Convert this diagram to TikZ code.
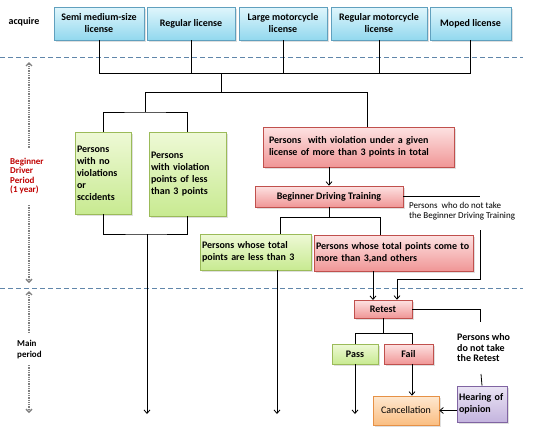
\documentclass[tikz,border=0pt]{standalone}
\usepackage{fontspec}
\setmainfont{Carlito}
\usetikzlibrary{arrows.meta,shadows}

\definecolor{licTop}{RGB}{224,246,252}
\definecolor{licBot}{RGB}{146,216,238}
\definecolor{licLine}{RGB}{96,160,190}
\definecolor{okTop}{RGB}{238,249,214}
\definecolor{okBot}{RGB}{200,234,145}
\definecolor{okLine}{RGB}{155,187,89}
\definecolor{ngTop}{RGB}{253,226,226}
\definecolor{ngBot}{RGB}{240,150,150}
\definecolor{ngLine}{RGB}{192,80,77}
\definecolor{canTop}{RGB}{254,232,208}
\definecolor{canBot}{RGB}{250,190,130}
\definecolor{canLine}{RGB}{230,145,70}
\definecolor{hearTop}{RGB}{234,228,244}
\definecolor{hearBot}{RGB}{196,180,222}
\definecolor{hearLine}{RGB}{128,100,162}
\definecolor{periodRed}{RGB}{192,0,0}
\definecolor{sepLine}{RGB}{96,134,170}

\tikzset{
  box/.style={draw, line width=0.6pt, inner sep=2pt,
    font=\bfseries\fontsize{10}{12}\selectfont,
    drop shadow={opacity=0.25, shadow xshift=1.5pt, shadow yshift=-1.5pt}},
  lic/.style={box, top color=licTop, bottom color=licBot, draw=licLine, align=center},
  ok/.style={box, top color=okTop, bottom color=okBot, draw=okLine},
  ng/.style={box, top color=ngTop, bottom color=ngBot, draw=ngLine},
  cancelbox/.style={box, top color=canTop, bottom color=canBot, draw=canLine,
    font=\fontsize{10}{12}\selectfont},
  hearbox/.style={box, top color=hearTop, bottom color=hearBot, draw=hearLine},
  link/.style={line width=0.8pt},
  arr/.style={link, -{Straight Barb[length=3.5pt,width=6pt]}},
  period/.style={gray, line width=1.3pt, densely dotted},
  sep/.style={sepLine, line width=0.7pt, dash pattern=on 5pt off 3pt}
}

\begin{document}
\begin{tikzpicture}[x=1pt, y=-1pt]
\fill[white] (0,0) rectangle (538,432);
\useasboundingbox (0,0) rectangle (538,432);

% Period separators
\draw[sep] (0,57) -- (523,57);
\draw[sep] (0,288) -- (523,288);

% Licenses
\node[font=\bfseries\fontsize{10}{12}\selectfont] (acq) at (24,22) {acquire};
\foreach \n/\x/\w/\t in {1/99/90/{Semi medium-size\\license},
                         2/191/88/{Regular license},
                         3/283/88/{Large motorcycle\\license},
                         4/379/96/{Regular motorcycle\\license},
                         5/470.5/81/{Moped license}} {
    \node[lic, minimum width=\w*1pt, minimum height=33pt] (lic\n) at (\x,23.5) {\t};
}

% Beginner driver period
\node[ok, text width=52pt, align=left, minimum height=82pt] (safe1) at (103,173)
    {Persons\\with no\\violations\\or\\sccidents};
\node[ok, text width=73pt, align=left, minimum height=84pt] (safe2) at (187.5,174)
    {Persons\\with violation\\points of less\\than 3 points};
\node[ng, inner xsep=6pt, text width=179pt, align=left, minimum height=40pt] (viol) at (358.5,147)
    {Persons~ with violation under a given\\license of more than 3 points in total};
\node[ng, minimum width=148pt, minimum height=21pt] (bdt) at (329,196.5) {Beginner Driving Training};
\node[anchor=west, align=left, inner sep=0pt, font=\fontsize{9}{10}\selectfont] (notrain) at (409,211)
    {Persons~ who do not take\\the Beginner Driving Training};
\node[ok, text width=107pt, align=left, minimum height=36pt] (less3) at (255.5,252)
    {Persons whose total\\points are less than 3};
\node[ng, text width=155pt, align=left, minimum height=36pt] (more3) at (393.5,253)
    {Persons whose total points come to\\more than 3,and others};

% Main period
\node[ng, minimum width=58pt, minimum height=18pt] (retest) at (383,309) {Retest};
\node[ok, minimum width=46pt, minimum height=20pt] (pass) at (355,354) {Pass};
\node[ng, minimum width=49pt, minimum height=20pt] (fail) at (408.5,354) {Fail};
\node[anchor=west, align=left, inner sep=0pt, font=\bfseries\fontsize{10}{10.5}\selectfont] (noretest) at (457,348)
    {Persons who\\do not take\\the Retest};
\node[hearbox, text width=46pt, align=left, minimum height=36pt] (hear) at (482,404) {Hearing of\\opinion};
\node[cancelbox, minimum width=66pt, minimum height=29pt] (cancel) at (406,410.5) {Cancellation};

% Period labels
\node[anchor=west, align=left, inner sep=0pt, text=periodRed,
      font=\bfseries\fontsize{9}{9.5}\selectfont] (beginLbl) at (10,176)
    {Beginner\\Driver\\Period\\(1 year)};
\node[anchor=west, align=left, inner sep=0pt,
      font=\bfseries\fontsize{9}{11}\selectfont] (mainLbl) at (17,350) {Main\\period};
\coordinate (pA) at (29,62);
\coordinate (pB) at (29,148);
\coordinate (pC) at (29,205);
\coordinate (pD) at (29,283);
\coordinate (pE) at (29,291);
\coordinate (pF) at (29,332);
\coordinate (pG) at (29,365);
\coordinate (pH) at (29,413);
\draw[period, {Straight Barb[length=3pt,width=6pt]}-] (pA) -- (pB);
\draw[period, -{Straight Barb[length=3pt,width=6pt]}] (pC) -- (pD);
\draw[period, {Straight Barb[length=3pt,width=6pt]}-] (pE) -- (pF);
\draw[period, -{Straight Barb[length=3pt,width=6pt]}] (pG) -- (pH);

% Connectors
\coordinate (busA) at (221,73);
\coordinate (busB) at (221,92);
\coordinate (splitL) at (145,92);
\coordinate (splitR) at (367,92);
\coordinate (safeBus) at (145,112);
\coordinate (safeOut) at (147,234);
\coordinate (endA) at (147,414);
\coordinate (endB) at (277,414);
\coordinate (bdtBus) at (329,217);
\coordinate (bdtL) at (280,217);
\coordinate (bdtR) at (380,217);
\coordinate (retInA) at (373,300);
\coordinate (ntA) at (480,196.5);
\coordinate (ntB) at (480,230);
\coordinate (ntC) at (397,279);
\coordinate (rtBus) at (384,333);
\coordinate (failX) at (412,333);
\coordinate (nrB) at (480,322);
\coordinate (nrC) at (481,374);

\draw[link] (lic1.south) -- (lic1.south |- busA) -- (lic5.south |- busA) -- (lic5.south);
\foreach \n in {2,3,4} {
    \draw[link] (lic\n.south) -- (lic\n.south |- busA);
}
\draw[link] (busA) -- (busB);
\draw[link] (splitL) -- (splitR) -- (splitR |- viol.north);
\draw[link] (splitL) -- (safeBus);
\draw[link] (safe1.north) |- (safeBus) -| (safe2.north);
\draw[link] (safe1.south) |- (safeOut) -| (safe2.south);
\draw[arr] (safeOut) -- (endA);

\draw[arr] (viol.south -| bdt.north) -- (bdt.north);
\draw[link] (bdt.south) -- (bdtBus);
\draw[link] (bdtL |- less3.north) -- (bdtL) -- (bdtR) -- (bdtR |- more3.north);
\draw[arr] (endB |- less3.south) -- (endB);
\draw[arr] (retInA |- more3.south) -- (retInA);
\draw[link] (bdt.east) -- (ntA);
\draw[arr] (ntB) |- (ntC) -- (ntC |- retest.north);

\draw[link] (retest.south) -- (retest.south |- rtBus);
\draw[link] (pass.north) |- (failX) -- (failX |- fail.north);
\draw[arr] (pass.south) -- (pass.south |- endA);
\draw[arr] (failX |- fail.south) -- (failX |- cancel.north);
\draw[link] (retest.east) -| (nrB);
\draw[link] (hear.north) -- (nrC);
\draw[arr] (hear.west |- cancel.east) -- (cancel.east);

\end{tikzpicture}
\end{document}
